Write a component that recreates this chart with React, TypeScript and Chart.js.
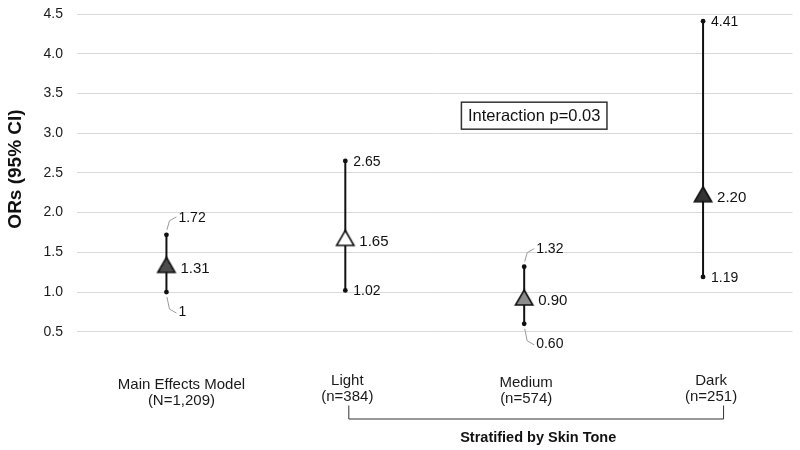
import React, { useEffect, useRef } from "react";
import { Chart, registerables } from "chart.js";

Chart.register(...registerables);

const categories = ["Main Effects Model", "Light", "Medium", "Dark"];
const categorySub = ["(N=1,209)", "(n=384)", "(n=574)", "(n=251)"];
const orValues = [1.31, 1.65, 0.9, 2.2];
const ciLower = [1.0, 1.02, 0.6, 1.19];
const ciUpper = [1.72, 2.65, 1.32, 4.41];
const estLabels = ["1.31", "1.65", "0.90", "2.20"];
const lowerLabels = ["1", "1.02", "0.60", "1.19"];
const upperLabels = ["1.72", "2.65", "1.32", "4.41"];
const calloutLabels = [true, false, true, false];
const yMin = 0;
const yMax = 4.5;
const yStep = 0.5;
const interactionText = "Interaction p=0.03";
const interactionY = 3.22;
const groupTitle = "Stratified by Skin Tone";
const yTitle = "ORs (95% CI)";

const FONT = '"Liberation Sans", Arial, Helvetica, sans-serif';
const labelShift = [15, 2, 2, 8];
const labelLineY = [13, 9, 11, 9];

function makePattern(g: CanvasRenderingContext2D): CanvasPattern | string {
  const c = document.createElement("canvas");
  c.width = 4;
  c.height = 4;
  const p2 = c.getContext("2d");
  if (!p2) return "#555";
  p2.fillStyle = "#808080";
  p2.fillRect(0, 0, 4, 4);
  p2.fillStyle = "#1a1a1a";
  p2.fillRect(0, 0, 1, 1);
  p2.fillRect(2, 0, 1, 1);
  p2.fillRect(1, 1, 1, 1);
  p2.fillRect(3, 1, 1, 1);
  p2.fillRect(0, 2, 1, 1);
  p2.fillRect(2, 2, 1, 1);
  p2.fillRect(1, 3, 1, 1);
  p2.fillRect(3, 3, 1, 1);
  const p = g.createPattern(c, "repeat");
  return p || "#555";
}

function makeTriangle(fill: string | "pattern"): HTMLCanvasElement {
  const size = 26;
  const c = document.createElement("canvas");
  c.width = size;
  c.height = size;
  const g = c.getContext("2d");
  if (!g) return c;
  const r = 10;
  const cx = size / 2;
  const cy = size / 2;
  g.beginPath();
  g.moveTo(cx, cy - r);
  g.lineTo(cx + r * Math.sin((2 * Math.PI) / 3), cy - r * Math.cos((2 * Math.PI) / 3));
  g.lineTo(cx + r * Math.sin((4 * Math.PI) / 3), cy - r * Math.cos((4 * Math.PI) / 3));
  g.closePath();
  g.fillStyle = fill === "pattern" ? (makePattern(g) as any) : fill;
  g.fill();
  g.lineWidth = 1.6;
  g.strokeStyle = "#111";
  g.lineJoin = "miter";
  g.stroke();
  return c;
}

const overlayPlugin = {
  id: "overlay",
  beforeDatasetsDraw(chart: any) {
    const { ctx } = chart;
    const xs = chart.scales.x;
    const ys = chart.scales.y;
    ctx.save();
    for (let i = 0; i < categories.length; i++) {
      const x = xs.getPixelForValue(i);
      const yl = ys.getPixelForValue(ciLower[i]);
      const yu = ys.getPixelForValue(ciUpper[i]);
      ctx.strokeStyle = "#111";
      ctx.lineWidth = 2;
      ctx.beginPath();
      ctx.moveTo(x, yl);
      ctx.lineTo(x, yu);
      ctx.stroke();
      ctx.fillStyle = "#111";
      for (const yy of [yl, yu]) {
        ctx.beginPath();
        ctx.arc(x, yy, 2.4, 0, Math.PI * 2);
        ctx.fill();
      }
    }
    ctx.restore();
  },
  afterDatasetsDraw(chart: any) {
    const { ctx, chartArea } = chart;
    const xs = chart.scales.x;
    const ys = chart.scales.y;
    ctx.save();
    ctx.textBaseline = "middle";
    ctx.textAlign = "left";
    for (let i = 0; i < categories.length; i++) {
      const x = xs.getPixelForValue(i);
      const yv = ys.getPixelForValue(orValues[i]);
      const yl = ys.getPixelForValue(ciLower[i]);
      const yu = ys.getPixelForValue(ciUpper[i]);
      ctx.fillStyle = "#111";
      ctx.font = `15px ${FONT}`;
      ctx.fillText(estLabels[i], x + 14, yv + 1);
      ctx.font = `14px ${FONT}`;
      if (calloutLabels[i]) {
        const lx = x + 12;
        const uy = yu - 17;
        const ly = yl + 20;
        ctx.fillText(upperLabels[i], lx, uy);
        ctx.fillText(lowerLabels[i], lx, ly);
        ctx.strokeStyle = "#9a9a9a";
        ctx.lineWidth = 1;
        ctx.beginPath();
        ctx.moveTo(x + 0.5, yu - 5);
        ctx.lineTo(x + 3, uy + 3);
        ctx.lineTo(x + 10, uy - 1);
        ctx.stroke();
        ctx.beginPath();
        ctx.moveTo(x + 0.5, yl + 5);
        ctx.lineTo(x + 3, ly - 3);
        ctx.lineTo(x + 10, ly + 1);
        ctx.stroke();
      } else {
        ctx.fillText(upperLabels[i], x + 8, yu + 1);
        ctx.fillText(lowerLabels[i], x + 8, yl + 1);
      }
    }

    // category labels
    ctx.textAlign = "center";
    ctx.fillStyle = "#1a1a1a";
    ctx.font = `15px ${FONT}`;
    for (let i = 0; i < categories.length; i++) {
      const x = xs.getPixelForValue(i) + labelShift[i];
      const y0 = chartArea.bottom + labelLineY[i];
      ctx.fillText(categories[i], x, y0);
      ctx.fillText(categorySub[i], x, y0 + 16.5);
    }

    // bracket
    const xl = xs.getPixelForValue(1) + 3;
    const xr = xs.getPixelForValue(3) + 20;
    const bTop = chartArea.bottom + 34;
    const bBot = chartArea.bottom + 47;
    ctx.strokeStyle = "#333";
    ctx.lineWidth = 1;
    ctx.beginPath();
    ctx.moveTo(xl + 0.5, bTop);
    ctx.lineTo(xl + 0.5, bBot + 0.5);
    ctx.lineTo(xr + 0.5, bBot + 0.5);
    ctx.lineTo(xr + 0.5, bTop);
    ctx.stroke();
    ctx.font = `bold 14.5px ${FONT}`;
    ctx.fillStyle = "#111";
    ctx.fillText(groupTitle, xs.getPixelForValue(2) + 14, chartArea.bottom + 66);

    // interaction box
    ctx.font = `16.5px ${FONT}`;
    const tw = ctx.measureText(interactionText).width;
    const cx = xs.getPixelForValue(2) + 10;
    const cy = ys.getPixelForValue(interactionY);
    const bw = tw + 13;
    const bh = 27;
    ctx.fillStyle = "#fff";
    ctx.fillRect(cx - bw / 2, cy - bh / 2, bw, bh);
    ctx.strokeStyle = "#333";
    ctx.lineWidth = 1.5;
    ctx.strokeRect(cx - bw / 2, cy - bh / 2, bw, bh);
    ctx.fillStyle = "#111";
    ctx.fillText(interactionText, cx, cy + 1);

    // y title
    ctx.save();
    ctx.translate(16, 169);
    ctx.rotate(-Math.PI / 2);
    ctx.font = `bold 19px ${FONT}`;
    ctx.fillStyle = "#111";
    ctx.fillText(yTitle, 0, 0);
    ctx.restore();

    ctx.restore();
  },
};

export default function App() {
  const ref = useRef<HTMLCanvasElement | null>(null);
  useEffect(() => {
    if (!ref.current) return;
    const markers = [
      makeTriangle("pattern"),
      makeTriangle("#ffffff"),
      makeTriangle("#8c8c8c"),
      makeTriangle("#333333"),
    ];
    const chart = new Chart(ref.current, {
      type: "line",
      data: {
        labels: categories,
        datasets: [
          {
            data: orValues,
            showLine: false,
            pointStyle: markers as any,
            pointRadius: 1,
            pointHoverRadius: 1,
            pointBorderWidth: 0,
          },
        ],
      },
      options: {
        responsive: false,
        animation: false,
        events: [],
        layout: { padding: { left: 0, right: 7.5, top: 14, bottom: 78.5 } },
        plugins: {
          legend: { display: false },
          tooltip: { enabled: false },
          title: { display: false },
        },
        scales: {
          x: {
            type: "category",
            offset: true,
            display: false,
          },
          y: {
            min: yMin,
            max: yMax,
            afterFit: (s: any) => {
              s.width = 77;
            },
            border: { display: false },
            grid: {
              drawTicks: true,
              tickLength: 14,
              tickColor: "rgba(0,0,0,0)",
              color: (c: any) => (c.tick && c.tick.value === 0 ? "rgba(0,0,0,0)" : "#d9d9d9"),
              lineWidth: 1,
            },
            ticks: {
              stepSize: yStep,
              padding: 0,
              color: "#1a1a1a",
              font: { family: FONT, size: 14 },
              callback: (v: any) => (Number(v) === 0 ? "" : Number(v).toFixed(1)),
            },
          },
        },
      },
      plugins: [overlayPlugin],
    });
    return () => chart.destroy();
  }, []);
  return (
    <div style={{ position: "absolute", left: 0, top: 0, width: 800, height: 450, background: "#fff" }}>
      <canvas ref={ref} width={800} height={450} />
    </div>
  );
}
